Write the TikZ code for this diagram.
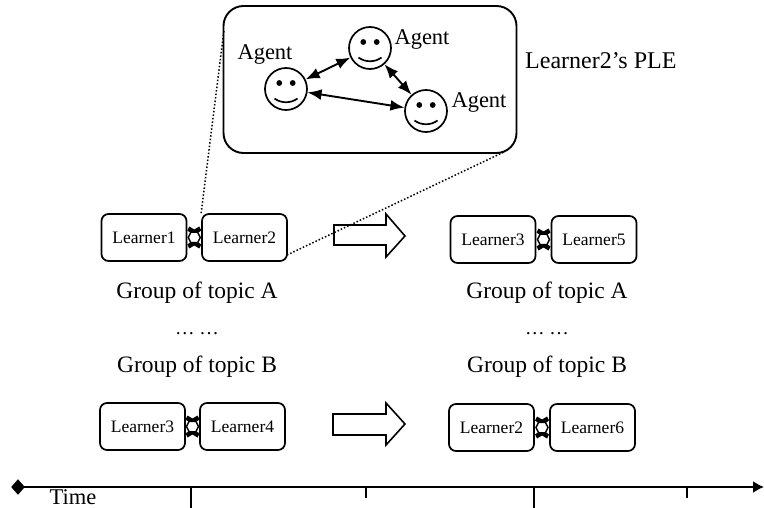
\documentclass[tikz,border=0pt]{standalone}
\usepackage{fontspec}
\setmainfont{Liberation Serif}
\usetikzlibrary{arrows.meta,shapes.geometric}
\tikzset{
  learner/.style={draw,line width=1.7pt,rounded corners=7pt,minimum width=85pt,minimum height=47pt,inner sep=0pt,font=\fontsize{17.5}{20}\selectfont},
  face/.style={draw,circle,line width=1.7pt,minimum size=42pt,inner sep=0pt},
  biarrow/.style={line width=1.9pt,{Latex[length=14pt,width=11pt]}-{Latex[length=14pt,width=11pt]}},
  caption/.style={font=\fontsize{23.5}{26}\selectfont,inner sep=0pt},
  agent/.style={font=\fontsize{22.5}{25}\selectfont,inner sep=0pt},
  fat/.style={draw,line width=1.6pt,line join=miter},
  zoomline/.style={line width=1.5pt,dotted},
  tick/.style={line width=1.4pt},
  pics/smile/.style={code={
    \fill (-6.7,-6) circle (2.9pt);
    \fill (6.7,-6) circle (2.9pt);
    \draw[line width=1.7pt] (-11.5,9.5) .. controls (-5,14.5) and (5,14.5) .. (11.5,9.5);
  }}
}
\begin{document}
\begin{tikzpicture}[x=1pt,y=-1pt]
\useasboundingbox (0,0) rectangle (764,508);
% PLE box
\node[draw,line width=1.9pt,rounded corners=20pt,minimum width=293pt,minimum height=147pt,inner sep=0pt] (ple) at (370,79.5) {};
\node[face] (fa) at (286,89) {}; \pic at (fa.center) {smile};
\node[face] (fb) at (370,48) {}; \pic at (fb.center) {smile};
\node[face] (fc) at (426,111) {}; \pic at (fc.center) {smile};
\draw[biarrow] (fa) -- (fb);
\draw[biarrow] (fb) -- (fc);
\draw[biarrow] (fa) -- (fc);
\node[agent] (ta) at (265,55) {Agent};
\node[agent] (tb) at (422,40) {Agent};
\node[agent] (tc) at (479,103) {Agent};
\node[caption,anchor=west,font=\fontsize{24}{26}\selectfont] (ptitle) at (525,61) {Learner2’s PLE};
% learners
\node[learner] (l1) at (144,237.5) {Learner1};
\node[learner] (l2) at (244.5,237.5) {Learner2};
\node[learner] (r1) at (493,239.5) {Learner3};
\node[learner] (r2) at (594,239.5) {Learner5};
\node[learner] (l3) at (142.5,426.5) {Learner3};
\node[learner] (l4) at (242.5,426.5) {Learner4};
\node[learner] (r3) at (491.5,427.5) {Learner2};
\node[learner] (r4) at (592.5,427.5) {Learner6};
\foreach \a/\b in {l1/l2,r1/r2,l3/l4,r3/r4}{
  \path (\a.east) -- (\b.west) coordinate[pos=.5] (m);
  \begin{scope}[shift={(m)}]
    \fill (-5,-11) -- (0,-8) -- (5,-11) -- (7,-7) -- (3.5,-4.5) -- (-3.5,-4.5) -- (-7,-7) -- cycle;
    \fill (-5,11) -- (0,8) -- (5,11) -- (7,7) -- (3.5,4.5) -- (-3.5,4.5) -- (-7,7) -- cycle;
    \draw[line width=1.4pt] (-3.5,-5) -- (-6,0) -- (-3.5,5) (3.5,-5) -- (6,0) -- (3.5,5);
  \end{scope}
}
% zoom lines
\coordinate (zl) at (224,30);
\coordinate (zr) at (504,152);
\draw[zoomline] (l2.north west) -- (zl);
\draw[zoomline] (287,255) -- (zr);
% fat arrows
\draw[fat] (334,225) -- (386,225) -- (386,214) -- (405,236) -- (386,257) -- (386,245) -- (334,245) -- cycle;
\draw[fat] (333,414) -- (386,414) -- (386,403) -- (405,424) -- (386,445) -- (386,435) -- (333,435) -- cycle;
% captions
\node[caption] (c1) at (197,293) {Group of topic A};
\node[caption] (c2) at (547,293) {Group of topic A};
\node[caption,font=\fontsize{19.5}{22}\selectfont] (d1) at (197,334) {… …};
\node[caption,font=\fontsize{19.5}{22}\selectfont] (d2) at (547,334) {… …};
\node[caption] (c3) at (197,367) {Group of topic B};
\node[caption] (c4) at (547,367) {Group of topic B};
% timeline
\coordinate (t0) at (18,487);
\coordinate (t1) at (764,487);
\draw[line width=1.8pt,-{Latex[length=11pt,width=12pt]}] (t0) -- (t1);
\node[draw,diamond,fill=black,aspect=.8,minimum width=13pt,minimum height=15pt,inner sep=0pt] (dm) at (t0) {};
\foreach \x/\l in {191/21,366/11,534/21,687/11}{
  \draw[tick] (\x,487) -- (\x,487+\l);
}
\node[caption,font=\fontsize{22.5}{24}\selectfont] (tm) at (73,497) {Time};
\end{tikzpicture}
\end{document}
